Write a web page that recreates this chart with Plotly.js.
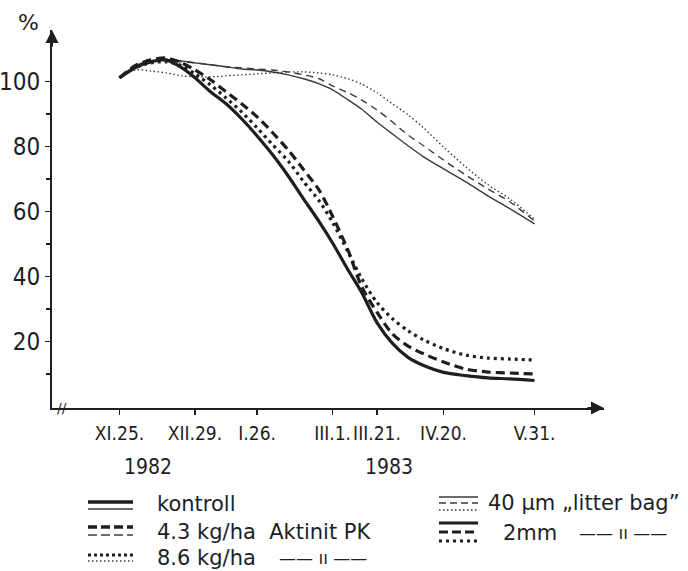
<!DOCTYPE html>
<html>
<head>
<meta charset="utf-8">
<script src="https://cdn.plot.ly/plotly-3.0.1.min.js"></script>
<style>html,body{margin:0;padding:0;background:#fff;}#chart{width:688px;height:571px;}</style>
</head>
<body>
<div id="chart"></div>
<script>
// ---- data ----
const dates = ['1982-11-25','1982-12-02','1982-12-09','1982-12-16','1982-12-23','1982-12-29',
  '1983-01-05','1983-01-12','1983-01-19','1983-01-26','1983-02-02','1983-02-09','1983-02-16',
  '1983-02-23','1983-03-01','1983-03-08','1983-03-14','1983-03-21','1983-03-28','1983-04-04',
  '1983-04-11','1983-04-20','1983-04-30','1983-05-10','1983-05-20','1983-05-31'];

// 40 µm litter bag (thin lines)
const bag40_kontroll = [101.1,104.8,106.3,106.6,106.3,105.7,105.1,104.5,103.8,103.5,102.9,102.0,100.8,99.2,97.4,94.3,91.5,87.5,83.8,80.2,76.8,73.1,69.1,64.8,60.8,56.2];
const bag40_aktinit43 = [101.1,104.5,106.0,106.3,106.0,105.7,105.1,104.5,104.2,103.8,103.5,102.9,102.0,100.8,98.6,96.5,94.3,91.2,87.5,83.5,80.2,75.8,71.2,66.9,62.9,57.0];
const bag40_aktinit86 = [101.1,103.5,103.2,102.6,101.7,101.4,101.4,101.7,102.0,102.3,102.6,102.9,102.9,102.6,102.0,100.8,99.2,96.5,93.1,89.7,85.7,79.8,73.7,68.2,63.8,57.6];

// 2 mm litter bag (thick lines)
const bag2_kontroll = [101.1,104.2,106.0,106.6,104.2,101.1,96.8,93.1,88.5,83.2,77.4,70.9,63.8,56.8,50.3,42.0,35.2,25.8,19.4,15.1,12.6,10.5,9.5,8.8,8.5,8.0];
const bag2_aktinit43 = [101.1,104.8,106.6,107.2,105.7,103.5,100.5,96.8,93.1,89.1,84.2,78.9,72.8,66.5,58.5,48.0,37.0,29.0,22.3,18.6,16.2,13.7,11.5,10.6,10.3,10.0];
const bag2_aktinit86 = [101.1,104.2,105.7,106.0,104.8,102.3,98.9,94.9,90.6,85.7,80.5,75.5,69.1,63.2,56.6,47.5,39.5,32.0,27.0,23.3,20.5,17.8,15.8,14.9,14.6,14.3];

const xTickVals = ['1982-11-25','1982-12-29','1983-01-26','1983-03-01','1983-03-21','1983-04-20','1983-05-31'];
const xTickText = ['XI.25.','XII.29.','I.26.','III.1.','III.21.','IV.20.','V.31.'];
const yTickVals = [20,40,60,80,100];
const yTickText = ['20','40','60','80','100'];
const yMinorVals = [10,30,50,70,90];

const legendLabels = ['kontroll','4.3 kg/ha  Aktinit PK','8.6 kg/ha','40 µm \u201Elitter bag\u201D','2mm'];
const dittoMark = '\u2014\u2014 \u0131\u0131 \u2014\u2014';

// ---- layout geometry ----
const L = 52, R = 604, T = 30, B = 408;
const fx = x => (x - L) / (R - L);
const fy = y => (B - y) / (B - T);
const INK = '#1e1e1e', INK2 = '#3a3a3a';
const FONT = 'DejaVu Sans, Liberation Sans, sans-serif';
const NARROW = 'Liberation Sans Narrow, DejaVu Sans Condensed, Liberation Sans, sans-serif';

const thin = {width: 1.4, color: INK2};
const thick = {width: 3.2, color: INK};
const styles = {
  solid: 'solid', dashed: '7px,5px', dotted: '1.5px,2.5px',
  tsolid: 'solid', tdashed: '9px,5px', tdotted: '3px,4px'
};

function tr(y, w, color, dash, name) {
  return {x: dates, y: y, type: 'scatter', mode: 'lines', name: name,
    line: {width: w, color: color, dash: dash, shape: 'spline', smoothing: 0.8},
    hoverinfo: 'x+y'};
}

const traces = [
  tr(bag40_kontroll, thin.width, thin.color, styles.solid, '40 µm kontroll'),
  tr(bag40_aktinit43, thin.width, thin.color, styles.dashed, '40 µm 4.3 kg/ha'),
  tr(bag40_aktinit86, thin.width, thin.color, styles.dotted, '40 µm 8.6 kg/ha'),
  tr(bag2_kontroll, thick.width, thick.color, styles.tsolid, '2mm kontroll'),
  tr(bag2_aktinit43, thick.width, thick.color, styles.tdashed, '2mm 4.3 kg/ha'),
  tr(bag2_aktinit86, thick.width, thick.color, styles.tdotted, '2mm 8.6 kg/ha')
];

// legend symbols as shapes
function seg(x0, x1, y, w, dash) {
  return {type: 'line', xref: 'paper', yref: 'paper', x0: fx(x0), x1: fx(x1), y0: fy(y), y1: fy(y),
    line: {color: w > 2 ? INK : INK2, width: w, dash: dash}};
}
const shapes = [
  seg(88, 133, 502, 3.5, 'solid'), seg(88, 133, 509, 1.4, 'solid'),
  seg(88, 133, 527, 3.5, '9px,4px'), seg(88, 133, 535, 1.4, '9px,4px'),
  seg(88, 133, 555, 3.0, '3px,3px'), seg(88, 133, 561, 1.4, '1.5px,2.5px'),
  seg(439, 478, 497, 1.4, 'solid'), seg(439, 478, 503, 1.4, '7px,4px'), seg(439, 478, 510, 1.4, '1.5px,2.5px'),
  seg(439, 478, 523, 3.2, 'solid'), seg(439, 478, 532, 3.2, '9px,4px'), seg(439, 478, 541, 3.0, '3px,4px')
];

function txt(text, x, y, size, anchor, fam) {
  return {text: text, xref: 'paper', yref: 'paper', x: fx(x), y: fy(y), showarrow: false,
    xanchor: anchor || 'left', yanchor: 'middle', font: {family: fam || FONT, size: size, color: INK}};
}
const annotations = [
  txt('%', 28, 22, 22, 'center'),
  txt('1982', 148, 467, 21, 'center', NARROW),
  txt('1983', 389, 467, 21, 'center', NARROW),
  txt('//', 62, 408, 14, 'center'),
  txt(legendLabels[0], 155, 504, 21),
  txt(legendLabels[1], 155, 532, 21),
  txt(legendLabels[2], 155, 558, 21),
  txt(dittoMark, 277, 558, 17),
  txt(legendLabels[3], 486, 503, 21),
  txt(legendLabels[4], 501, 533, 21),
  txt(dittoMark, 577, 533, 17),
  // axis arrowheads
  {x: 0, y: 1, xref: 'paper', yref: 'paper', text: '', showarrow: true, ax: 0, ay: 18,
    arrowhead: 2, arrowsize: 1.3, arrowwidth: 2, arrowcolor: INK},
  {x: 1, y: 0, xref: 'paper', yref: 'paper', text: '', showarrow: true, ax: -18, ay: 0,
    arrowhead: 2, arrowsize: 1.3, arrowwidth: 2, arrowcolor: INK}
];

const layout = {
  width: 688, height: 571, autosize: false,
  margin: {l: L, r: 688 - R, t: T, b: 571 - B, pad: 0},
  paper_bgcolor: '#fff', plot_bgcolor: '#fff',
  showlegend: false,
  font: {family: FONT, color: INK},
  xaxis: {
    type: 'date', range: ['1982-10-25 14:00', '1983-07-01 07:00'],
    tickmode: 'array', tickvals: xTickVals, ticktext: xTickText, tickangle: 0,
    showgrid: false, zeroline: false, showline: true, linewidth: 2, linecolor: INK,
    ticks: 'outside', ticklen: 5, tickwidth: 1.5, tickcolor: INK,
    ticklabelstandoff: 2,
    tickfont: {family: NARROW, size: 19, color: INK}
  },
  yaxis: {
    range: [-0.46, 115.8],
    tickmode: 'array', tickvals: yTickVals, ticktext: yTickText,
    showgrid: false, zeroline: false, showline: true, linewidth: 2, linecolor: INK,
    ticks: 'outside', ticklen: 5, tickwidth: 1.5, tickcolor: INK,
    minor: {tickmode: 'array', tickvals: yMinorVals, ticks: 'outside', ticklen: 4, tickwidth: 1.5, tickcolor: INK, showgrid: false},
    tickfont: {family: NARROW, size: 24, color: INK}
  },
  shapes: shapes,
  annotations: annotations
};

Plotly.newPlot('chart', traces, layout, {staticPlot: true, displayModeBar: false});
</script>
</body>
</html>
